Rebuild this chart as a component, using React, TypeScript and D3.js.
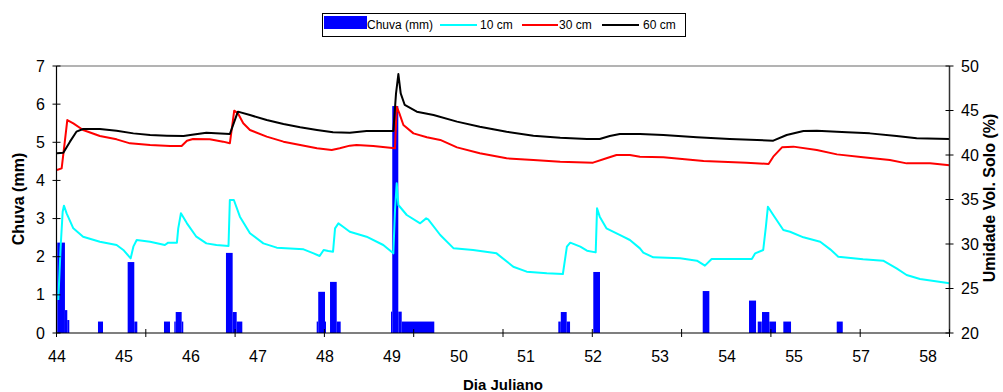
import React from "react";
import * as d3 from "d3";

// ---- data ----
const xTickLabels = ["44", "45", "46", "47", "48", "49", "50", "51", "52", "53", "54", "55", "57", "58"];
const xLabelDays = [44, 45, 46, 47, 48, 49, 50, 51, 52, 53, 54, 55, 56, 57];
const leftTicks = [0, 1, 2, 3, 4, 5, 6, 7];
const rightTicks = [20, 25, 30, 35, 40, 45, 50];

// rain bars: start day, end day, mm
const rainStart = [44.004, 44.119, 44.154, 44.612, 45.055, 45.154, 45.597, 45.751, 45.772, 45.861, 46.522, 46.622, 46.682, 47.876, 47.899, 48.0, 48.075, 48.175, 48.985, 49.004, 49.094, 49.145, 51.482, 51.519, 51.607, 52.004, 53.637, 54.328, 54.458, 54.522, 54.631, 54.84, 55.637];
const rainEnd = [44.119, 44.154, 44.184, 44.687, 45.154, 45.199, 45.687, 45.772, 45.861, 45.885, 46.622, 46.682, 46.766, 47.899, 48.0, 48.015, 48.175, 48.234, 49.004, 49.094, 49.145, 49.631, 51.519, 51.607, 51.657, 52.104, 53.736, 54.433, 54.518, 54.631, 54.731, 54.955, 55.727];
const rainMm = [2.37, 0.6, 0.34, 0.3, 1.86, 0.3, 0.3, 0.3, 0.55, 0.3, 2.1, 0.55, 0.3, 0.3, 1.08, 0.3, 1.34, 0.3, 0.56, 5.95, 0.56, 0.3, 0.3, 0.55, 0.3, 1.6, 1.1, 0.85, 0.3, 0.55, 0.3, 0.3, 0.3];

// 10 cm
const day10 = [44.02, 44.055, 44.085, 44.104, 44.144, 44.244, 44.39, 44.64, 44.89, 44.99, 45.10, 45.14, 45.19, 45.39, 45.61, 45.66, 45.79, 45.81, 45.85, 45.94, 46.08, 46.23, 46.38, 46.56, 46.58, 46.64, 46.73, 46.88, 47.08, 47.28, 47.68, 47.83, 47.92, 47.98, 48.05, 48.12, 48.15, 48.20, 48.27, 48.37, 48.62, 48.87, 49.02, 49.045, 49.07, 49.095, 49.22, 49.42, 49.51, 49.54, 49.72, 49.92, 50.21, 50.56, 50.81, 51.01, 51.31, 51.55, 51.61, 51.66, 51.81, 51.91, 52.04, 52.06, 52.10, 52.20, 52.45, 52.55, 52.70, 52.75, 52.90, 53.30, 53.55, 53.67, 53.77, 54.37, 54.42, 54.54, 54.58, 54.61, 54.69, 54.84, 54.94, 55.14, 55.39, 55.54, 55.66, 56.03, 56.33, 56.53, 56.68, 56.88, 57.32];
const moist10 = [23.71, 29.70, 33.63, 34.31, 33.45, 31.76, 30.82, 30.26, 29.89, 29.33, 28.39, 29.70, 30.45, 30.26, 29.89, 30.15, 30.15, 31.76, 33.45, 32.32, 30.82, 30.07, 29.89, 29.78, 34.94, 34.94, 33.07, 31.20, 30.07, 29.59, 29.40, 28.95, 28.65, 29.33, 29.21, 29.14, 31.76, 32.32, 31.94, 31.38, 30.82, 29.89, 28.95, 33.82, 36.82, 34.38, 33.26, 32.32, 32.88, 32.77, 31.01, 29.51, 29.33, 28.95, 27.45, 26.89, 26.70, 26.63, 29.70, 30.15, 29.70, 29.25, 29.06, 34.01, 33.07, 31.76, 30.82, 30.45, 29.51, 29.03, 28.50, 28.39, 28.13, 27.57, 28.31, 28.31, 28.95, 29.33, 31.94, 34.19, 33.26, 31.57, 31.38, 30.75, 30.26, 29.40, 28.58, 28.28, 28.13, 27.27, 26.52, 26.07, 25.58];

// 30 cm
const day30 = [44.00, 44.07, 44.12, 44.154, 44.244, 44.39, 44.64, 44.89, 45.09, 45.39, 45.69, 45.86, 45.94, 46.03, 46.28, 46.48, 46.58, 46.62, 46.645, 46.70, 46.78, 46.88, 47.13, 47.38, 47.63, 47.88, 48.10, 48.22, 48.37, 48.47, 48.72, 49.045, 49.07, 49.11, 49.17, 49.32, 49.52, 49.72, 49.97, 50.31, 50.71, 51.11, 51.51, 52.00, 52.20, 52.35, 52.55, 52.70, 53.05, 53.65, 54.29, 54.62, 54.69, 54.82, 54.99, 55.34, 55.64, 56.03, 56.43, 56.68, 57.03, 57.32];
const moist30 = [38.31, 38.50, 41.69, 43.93, 43.56, 42.81, 42.13, 41.76, 41.31, 41.12, 41.01, 41.01, 41.61, 41.80, 41.76, 41.50, 41.31, 43.56, 44.98, 44.68, 43.56, 42.81, 42.06, 41.50, 41.12, 40.75, 40.56, 40.75, 41.05, 41.12, 41.01, 40.75, 45.43, 44.68, 43.37, 42.43, 41.99, 41.69, 40.86, 40.19, 39.63, 39.44, 39.25, 39.14, 39.63, 40.0, 40.0, 39.81, 39.74, 39.33, 39.14, 38.99, 39.81, 40.86, 40.94, 40.56, 40.07, 39.74, 39.44, 39.06, 39.06, 38.84];

// 60 cm
const day60 = [44.00, 44.095, 44.194, 44.29, 44.39, 44.64, 44.89, 45.14, 45.39, 45.64, 45.89, 45.99, 46.23, 46.58, 46.62, 46.70, 46.88, 47.13, 47.38, 47.63, 47.88, 48.12, 48.37, 48.62, 49.02, 49.06, 49.095, 49.13, 49.19, 49.37, 49.62, 49.97, 50.31, 50.71, 51.11, 51.51, 51.91, 52.10, 52.25, 52.40, 52.70, 53.05, 53.55, 54.04, 54.69, 54.89, 55.14, 55.34, 55.79, 56.13, 56.53, 56.83, 57.32];
const moist60 = [40.19, 40.26, 41.50, 42.62, 42.92, 42.92, 42.73, 42.43, 42.25, 42.17, 42.13, 42.25, 42.51, 42.36, 43.18, 44.87, 44.49, 43.93, 43.48, 43.11, 42.81, 42.55, 42.51, 42.70, 42.70, 46.93, 49.10, 46.93, 45.62, 44.87, 44.49, 43.75, 43.18, 42.62, 42.17, 41.95, 41.80, 41.80, 42.13, 42.36, 42.36, 42.25, 41.99, 41.80, 41.61, 42.25, 42.70, 42.73, 42.55, 42.43, 42.13, 41.87, 41.80];

const series = [
  { name: "10 cm", color: "#00FFFF", days: day10, vals: moist10 },
  { name: "30 cm", color: "#FF0000", days: day30, vals: moist30 },
  { name: "60 cm", color: "#000000", days: day60, vals: moist60 },
];

const FONT = "'Liberation Sans', Arial, Helvetica, sans-serif";

export default function App() {
  const left = 56.5, right = 949.5, top = 66, bottom = 333;
  const x = d3.scaleLinear().domain([43.993, 57.32]).range([left, right]);
  const yL = d3.scaleLinear().domain([0, 7]).range([bottom, top]);
  const yR = d3.scaleLinear().domain([20, 50]).range([bottom, top]);
  const xTickPos = d3.range(11).map((i) => left + ((right - left) * i) / 10);

  const lineGen = (days: number[], vals: number[]) =>
    d3.line<number>().x((_, i) => x(days[i])).y((v) => yR(v))(vals) || "";

  return (
    <svg width={1003} height={392} style={{ position: "absolute", left: 0, top: 0, background: "#fff" }} fontFamily={FONT}>
      <rect x={0} y={0} width={1003} height={392} fill="#fff" />
      {/* top border */}
      <line x1={left} x2={right} y1={top} y2={top} stroke="#9a9a9a" strokeWidth={1.5} />
      {/* rain bars */}
      {rainMm.map((mm, i) => (
        <rect key={"r" + i} x={x(rainStart[i])} y={yL(mm)} width={Math.max(1, x(rainEnd[i]) - x(rainStart[i]))} height={bottom - yL(mm)} fill="#0000FF" />
      ))}
      {/* lines */}
      {series.map((s) => (
        <path key={s.name} d={lineGen(s.days, s.vals)} fill="none" stroke={s.color} strokeWidth={2} strokeLinejoin="round" />
      ))}
      {/* axes */}
      <line x1={left} x2={left} y1={top} y2={bottom} stroke="#000" strokeWidth={1.2} />
      <line x1={right} x2={right} y1={top} y2={bottom} stroke="#333" strokeWidth={1.5} />
      <line x1={left} x2={right} y1={bottom} y2={bottom} stroke="#000" strokeWidth={1.2} />
      {leftTicks.map((t) => (
        <g key={"l" + t}>
          <line x1={left - 4} x2={left + 4} y1={yL(t)} y2={yL(t)} stroke="#000" />
          <text x={45} y={yL(t) + 5.5} textAnchor="end" fontSize={16}>{t}</text>
        </g>
      ))}
      {rightTicks.map((t) => (
        <g key={"rt" + t}>
          <line x1={right - 4} x2={right + 4} y1={yR(t)} y2={yR(t)} stroke="#000" />
          <text x={961} y={yR(t) + 5.5} textAnchor="start" fontSize={16}>{t}</text>
        </g>
      ))}
      {xTickPos.map((p, i) => (
        <line key={"xt" + i} x1={p} x2={p} y1={bottom - 4} y2={bottom + 4} stroke="#000" />
      ))}
      {xTickLabels.map((lab, i) => (
        <text key={"xl" + i} x={x(xLabelDays[i])} y={362} textAnchor="middle" fontSize={16}>{lab}</text>
      ))}
      {/* axis titles */}
      <text x={503} y={390} textAnchor="middle" fontSize={15} fontWeight="bold">Dia Juliano</text>
      <text transform="translate(24,199) rotate(-90)" textAnchor="middle" fontSize={16} fontWeight="bold">Chuva (mm)</text>
      <text transform="translate(995,198) rotate(-90)" textAnchor="middle" fontSize={16} fontWeight="bold">Umidade Vol. Solo (%)</text>
      {/* legend */}
      <rect x={322.5} y={13.5} width={363} height={23} fill="#fff" stroke="#000" strokeWidth={1} />
      <rect x={324} y={16} width={43} height={13} fill="#0000FF" />
      <text x={367} y={29} fontSize={12}>Chuva (mm)</text>
      <line x1={440} x2={477} y1={25} y2={25} stroke="#00FFFF" strokeWidth={2} />
      <text x={480} y={29} fontSize={12}>10 cm</text>
      <line x1={522} x2={558} y1={25} y2={25} stroke="#FF0000" strokeWidth={2} />
      <text x={559} y={29} fontSize={12}>30 cm</text>
      <line x1={602} x2={639} y1={25} y2={25} stroke="#000" strokeWidth={2} />
      <text x={643} y={29} fontSize={12}>60 cm</text>
    </svg>
  );
}
